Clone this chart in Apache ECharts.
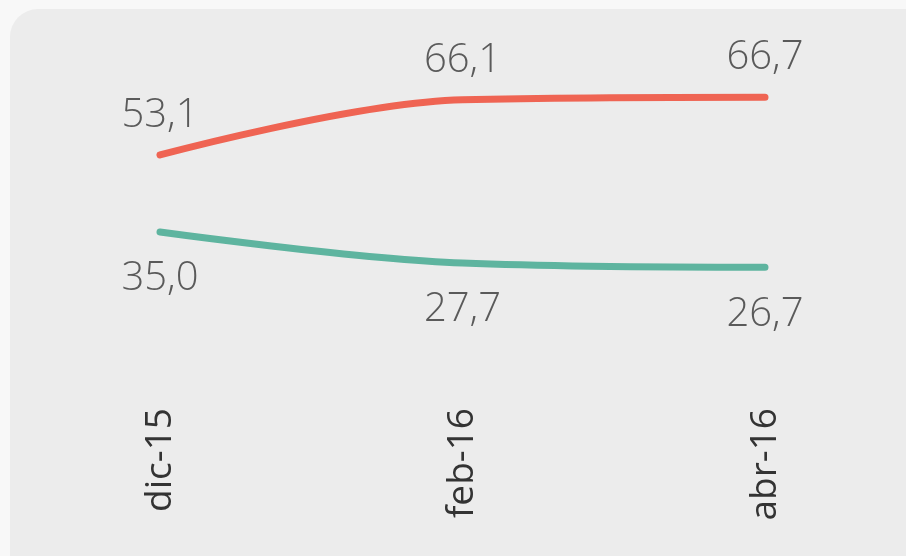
<!DOCTYPE html>
<html><head><meta charset="utf-8">
<script src="https://cdn.jsdelivr.net/npm/echarts@6/dist/echarts.min.js"></script>
<style>html,body{margin:0;padding:0;background:#f8f8f8;}#c{width:906px;height:556px;}</style>
</head><body><div id="c"></div>
<script>
const categories = ['dic-15', 'feb-16', 'abr-16'];
const redValues = [53.1, 66.1, 66.7];
const tealValues = [35.0, 27.7, 26.7];

const fmt = p => p.value.toFixed(1).replace('.', ',');
const chart = echarts.init(document.getElementById('c'));
const labelStyle = {
  show: true, formatter: fmt, fontFamily: 'Open Sans', fontWeight: 300,
  fontSize: 40, color: '#5a5a5a'
};
chart.setOption({
  backgroundColor: '#f8f8f8',
  animation: false,
  graphic: [{
    type: 'rect', z: -10, silent: true,
    shape: { x: 10, y: 9, width: 940, height: 580, r: 28 },
    style: { fill: '#ececec' }
  }],
  grid: { left: 160, right: 141, top: 20, bottom: 152 },
  xAxis: {
    type: 'category', data: categories, boundaryGap: false,
    axisLine: { show: false }, axisTick: { show: false }, splitLine: { show: false },
    axisLabel: { rotate: 90, margin: 4, fontFamily: 'Open Sans', fontSize: 37, color: '#333',
                 padding: [9, 0, 0, 0], lineHeight: 37 }
  },
  yAxis: {
    type: 'value', min: -5.43, max: 84.83, show: false, splitLine: { show: false }
  },
  series: [
    {
      type: 'line', data: redValues, smooth: 0.35, symbol: 'circle', symbolSize: 0.1,
      lineStyle: { color: '#ef6453', width: 7, cap: 'round' },
      itemStyle: { color: '#ef6453' },
      label: Object.assign({ position: 'top', distance: 19 }, labelStyle)
    },
    {
      type: 'line', data: tealValues, smooth: 0.35, symbol: 'circle', symbolSize: 0.1,
      lineStyle: { color: '#5eb49f', width: 7, cap: 'round' },
      itemStyle: { color: '#5eb49f' },
      label: Object.assign({ position: 'bottom', distance: 27 }, labelStyle)
    }
  ]
});
</script></body></html>
